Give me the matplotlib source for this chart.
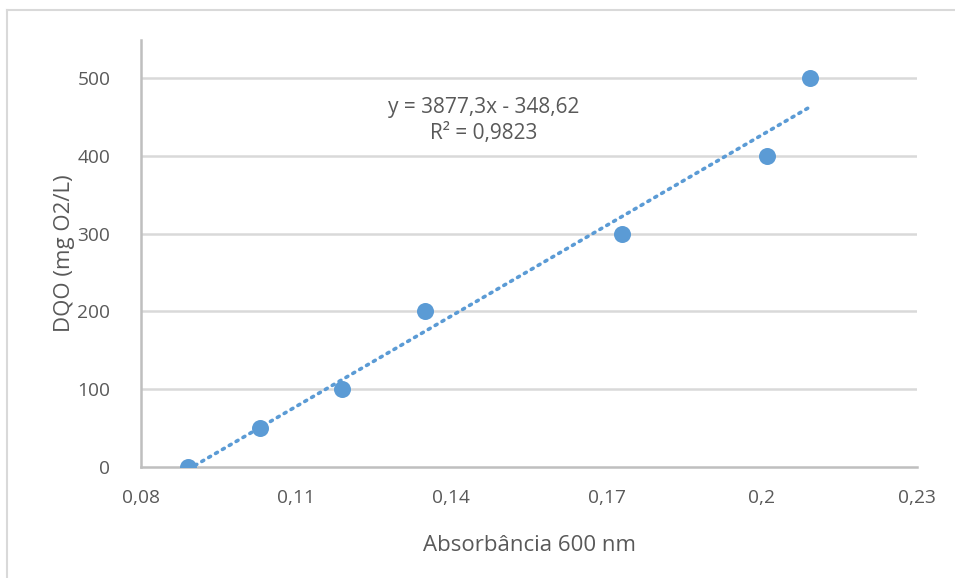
import matplotlib
matplotlib.use("Agg")
import matplotlib.pyplot as plt
from matplotlib.lines import Line2D
import numpy as np

# Data
absorbance = [0.0891, 0.1030, 0.1189, 0.1349, 0.1730, 0.2010, 0.2093]
dqo = [0, 50, 100, 200, 300, 400, 500]
slope = 3877.3
intercept = -348.62
x_ticks = [0.08, 0.11, 0.14, 0.17, 0.20, 0.23]
x_tick_labels = ["0,08", "0,11", "0,14", "0,17", "0,2", "0,23"]
y_ticks = [0, 100, 200, 300, 400, 500]
y_tick_labels = ["0", "100", "200", "300", "400", "500"]
eq_text = "y = 3877,3x - 348,62\nR² = 0,9823"

plt.rcParams['font.family'] = ['Open Sans', 'DejaVu Sans']

W, H = 955, 578
fig = plt.figure(figsize=(W / 100, H / 100), dpi=100)
fig.patch.set_facecolor('white')

ax = fig.add_axes([141 / W, (H - 467) / H, (917 - 141) / W, (467 - 40) / H])

blue = '#5B9BD5'
grid_c = '#D9D9D9'
axis_c = '#BFBFBF'
text_c = '#595959'

# Trendline
tx = np.array([min(absorbance), max(absorbance)])
ax.plot(tx, slope * tx + intercept, linestyle=(0, (0.6, 1.6)), color=blue,
        linewidth=2.6, dash_capstyle='round', zorder=2)
ax.scatter(absorbance, dqo, s=150, color=blue, zorder=3, linewidths=0)

ax.set_xlim(0.08, 0.23)
ax.set_ylim(0, 549)
ax.set_xticks(x_ticks)
ax.set_xticklabels(x_tick_labels)
ax.set_yticks(y_ticks)
ax.set_yticklabels(y_tick_labels)

for y in y_ticks[1:]:
    ax.axhline(y, color=grid_c, linewidth=1.8, zorder=1)

for s in ['top', 'right']:
    ax.spines[s].set_visible(False)
ax.spines['left'].set_color(axis_c)
ax.spines['bottom'].set_color(axis_c)
ax.spines['left'].set_linewidth(1.8)
ax.spines['bottom'].set_linewidth(1.8)
ax.tick_params(axis='both', length=0, labelsize=13.8, colors=text_c)
ax.tick_params(axis='x', pad=16)
ax.tick_params(axis='y', pad=22)

ax.set_xlabel("Absorbância 600 nm", fontsize=16, color=text_c, labelpad=20)
ax.set_ylabel("DQO (mg O2/L)", fontsize=16, color=text_c, labelpad=2)

ax.text(0.1462, 476, eq_text, ha='center', va='top', fontsize=15,
        color=text_c, linespacing=1.3)

# Outer frame lines
fig.add_artist(Line2D([7 / W, 7 / W], [0, 1 - 10 / H], transform=fig.transFigure,
                      color='#D9D9D9', linewidth=1.5))
fig.add_artist(Line2D([7 / W, 1], [1 - 10 / H, 1 - 10 / H], transform=fig.transFigure,
                      color='#D9D9D9', linewidth=1.5))

fig.savefig("out.png", dpi=100)
